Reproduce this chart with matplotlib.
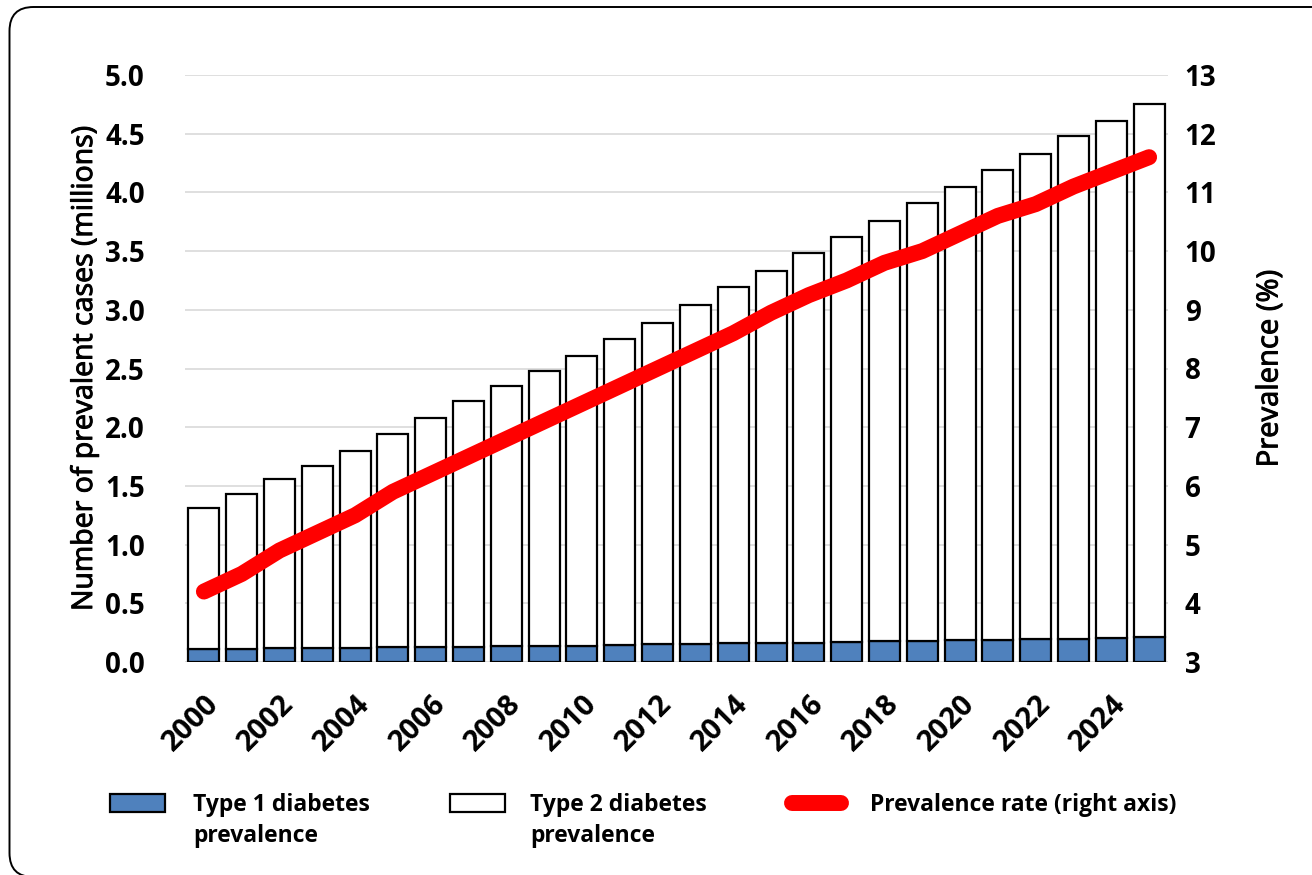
import matplotlib
matplotlib.use("Agg")
import matplotlib.pyplot as plt
from matplotlib.patches import FancyBboxPatch, Patch
from matplotlib.lines import Line2D
from matplotlib.transforms import IdentityTransform
import matplotlib.patheffects as pe
import numpy as np

# ---- data ----
years = list(range(2000, 2026))
type1_cases = [0.11, 0.11, 0.115, 0.12, 0.12, 0.125, 0.13, 0.13, 0.135, 0.14,
               0.14, 0.145, 0.15, 0.155, 0.16, 0.16, 0.165, 0.17, 0.175, 0.18,
               0.185, 0.19, 0.195, 0.20, 0.205, 0.21]
type2_cases = [1.20, 1.32, 1.445, 1.55, 1.68, 1.815, 1.95, 2.09, 2.215, 2.34,
               2.47, 2.605, 2.74, 2.885, 3.03, 3.17, 3.315, 3.45, 3.585, 3.73,
               3.865, 4.00, 4.135, 4.28, 4.405, 4.54]
prevalence_rate = [4.2, 4.5, 4.9, 5.2, 5.5, 5.9, 6.2, 6.5, 6.8, 7.1,
                   7.4, 7.7, 8.0, 8.3, 8.6, 8.95, 9.25, 9.5, 9.8, 10.0,
                   10.3, 10.6, 10.8, 11.1, 11.35, 11.6]
left_ticks = [0.0, 0.5, 1.0, 1.5, 2.0, 2.5, 3.0, 3.5, 4.0, 4.5, 5.0]
right_ticks = list(range(3, 14))

FONT = "Open Sans"
BLUE = "#4f81bd"
RED = "#ff0000"
GRID = "#d9d9d9"
# slightly heavier strokes for the axis titles
heavy = [pe.withStroke(linewidth=0.7, foreground="black")]

W, H = 1312, 875
fig = plt.figure(figsize=(W / 100, H / 100), dpi=100)
ax = fig.add_axes([185 / W, 1 - 662 / H, (1168 - 185) / W, (662 - 75) / H])

x = np.arange(len(years))
bar_w = 0.82
ax.bar(x, type1_cases, width=bar_w, color=BLUE, edgecolor="black",
       linewidth=1.6, zorder=3)
ax.bar(x, type2_cases, width=bar_w, bottom=type1_cases, color="white",
       edgecolor="black", linewidth=1.6, zorder=3)

ax.set_xlim(-0.5, len(years) - 0.5)
ax.set_ylim(0, 5.0)
ax.set_yticks(left_ticks)
ax.set_yticklabels([f"{v:.1f}" for v in left_ticks])
ax.grid(axis="y", color=GRID, linewidth=1.2, zorder=0)
ax.set_axisbelow(True)
for s in ax.spines.values():
    s.set_visible(False)
ax.tick_params(axis="both", length=0)
ax.tick_params(axis="y", pad=29)
ax.set_xticks(x[::2])
ax.set_xticklabels([str(y) for y in years[::2]], rotation=45, ha="right",
                   va="top", rotation_mode="anchor")
ax.tick_params(axis="x", pad=20)
for lab in ax.get_yticklabels():
    lab.set_fontfamily(FONT)
    lab.set_fontweight("bold")
    lab.set_fontsize(20)
for lab in ax.get_xticklabels():
    lab.set_fontfamily(FONT)
    lab.set_fontweight("bold")
    lab.set_fontsize(21)

ax.set_ylabel("Number of prevalent cases (millions)", fontfamily=FONT,
              fontsize=20.5, va="center", path_effects=heavy)
ax.yaxis.set_label_coords((85 - 185) / 983, 0.5)

# right axis: prevalence rate
ax2 = ax.twinx()
ax2.plot(x, prevalence_rate, color=RED, linewidth=11.5,
         solid_capstyle="round", solid_joinstyle="round", zorder=5)
ax2.set_ylim(3, 13)
ax2.set_yticks(right_ticks)
for s in ax2.spines.values():
    s.set_visible(False)
ax2.tick_params(axis="y", length=0, pad=12)
for lab in ax2.get_yticklabels():
    lab.set_fontfamily(FONT)
    lab.set_fontweight("bold")
    lab.set_fontsize(20)
ax2.set_ylabel("Prevalence (%)", fontfamily=FONT, fontsize=21,
               va="center", rotation=90, path_effects=heavy)
ax2.yaxis.set_label_coords((1270 - 185) / 983, 0.5)

# ---- legend: one entry per block, second text line added underneath ----
fs = 16.5
fpx = fs * 100 / 72
leg_font = {"family": FONT, "weight": "bold", "size": fs}
entries = [
    (Patch(facecolor=BLUE, edgecolor="black", linewidth=1.6),
     "Type 1 diabetes", "prevalence", 110, 55, 28),
    (Patch(facecolor="white", edgecolor="black", linewidth=1.6),
     "Type 2 diabetes", "prevalence", 450, 55, 25),
    (Line2D([], [], color=RED, linewidth=11.5, solid_capstyle="round"),
     "Prevalence rate (right axis)", None, 792, 49, 29),
]
legends = []
for handle, line1, line2, left_px, hlen, hpad in entries:
    leg = fig.legend([handle], [line1], loc="center left",
                     bbox_to_anchor=(left_px / W, 1 - 805 / H),
                     frameon=False, prop=leg_font, borderpad=0,
                     borderaxespad=0, handlelength=hlen / fpx,
                     handleheight=0.78, handletextpad=hpad / fpx)
    legends.append((leg, line2))

fig.canvas.draw()
renderer = fig.canvas.get_renderer()
for leg, line2 in legends:
    if line2 is None:
        continue
    bb = leg.get_texts()[0].get_window_extent(renderer)
    fig.text(bb.x0 / W, (bb.y0 - 7) / H, line2, ha="left", va="top",
             fontfamily=FONT, fontweight="bold", fontsize=fs)

# rounded outer frame
frame = FancyBboxPatch((9.5, -2), 1340, 870, boxstyle="round,pad=0,rounding_size=24",
                       transform=IdentityTransform(), facecolor="none",
                       edgecolor="black", linewidth=1.4)
fig.patches.append(frame)

fig.savefig("out.png", dpi=100)
